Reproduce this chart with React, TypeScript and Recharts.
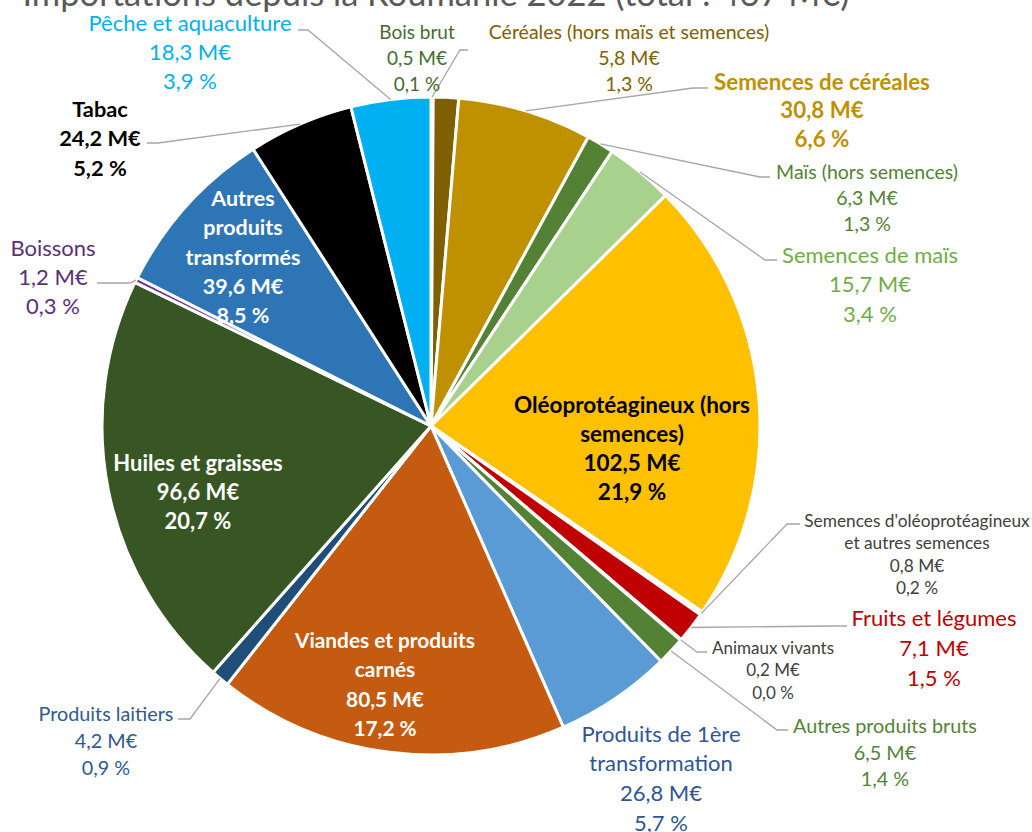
import { PieChart, Pie, Cell } from "recharts"

const TITLE = "Importations depuis la Roumanie 2022 (total : 467 M€)"

const CATEGORIES = [
  "Bois brut",
  "Céréales (hors maïs et semences)",
  "Semences de céréales",
  "Maïs (hors semences)",
  "Semences de maïs",
  "Oléoprotéagineux (hors semences)",
  "Semences d'oléoprotéagineux et autres semences",
  "Fruits et légumes",
  "Animaux vivants",
  "Autres produits bruts",
  "Produits de 1ère transformation",
  "Viandes et produits carnés",
  "Produits laitiers",
  "Huiles et graisses",
  "Boissons",
  "Autres produits transformés",
  "Tabac",
  "Pêche et aquaculture",
]

// M€
const VALUES = [0.5, 5.8, 30.8, 6.3, 15.7, 102.5, 0.8, 7.1, 0.2, 6.5, 26.8, 80.5, 4.2, 96.6, 1.2, 39.6, 24.2, 18.3]

// % as printed on the chart
const PERCENTS = [0.1, 1.3, 6.6, 1.3, 3.4, 21.9, 0.2, 1.5, 0.0, 1.4, 5.7, 17.2, 0.9, 20.7, 0.3, 8.5, 5.2, 3.9]

const SLICE_COLORS = [
  "#375623", "#7F6000", "#BF9000", "#548235", "#A9D18E", "#FFC000",
  "#FFD966", "#C00000", "#A5A5A5", "#548235", "#5B9BD5", "#C55A11",
  "#1F4E79", "#375623", "#7030A0", "#2E75B6", "#000000", "#00B0F0",
]

type LabelLayout = {
  x: number
  y: number
  lh: number
  size: number
  color: string
  bold?: boolean
  wrap?: number
  line?: [number, number][]
}

// label placement (text block centre + elbow / end of the leader line)
const LABELS: LabelLayout[] = [
  { x: 417, y: 31, lh: 26, size: 19, color: "#456B2E", line: [[460, 50], [468, 50]] },
  { x: 629, y: 31, lh: 26, size: 19.5, color: "#7F6000" },
  { x: 822, y: 81, lh: 28.5, size: 22.3, color: "#BF9000", bold: true, line: [[693, 88], [708, 88]] },
  { x: 867, y: 171, lh: 26, size: 19.5, color: "#548235", line: [[760, 177], [770, 177]] },
  { x: 870, y: 254, lh: 29.5, size: 22, color: "#70AD47", line: [[765, 260], [777, 260]] },
  { x: 632, y: 404, lh: 29, size: 22.5, color: "#000000", bold: true, wrap: 22 },
  { x: 917, y: 520, lh: 22.5, size: 17.3, color: "#404040", wrap: 27, line: [[787, 524], [800, 524]] },
  { x: 934, y: 617, lh: 30, size: 22, color: "#C00000", line: [[833, 626], [847, 626]] },
  { x: 773, y: 647, lh: 22.5, size: 17, color: "#404040", line: [[697, 652], [707, 652]] },
  { x: 885, y: 725, lh: 26.5, size: 19.8, color: "#548235", line: [[777, 730], [788, 730]] },
  { x: 661, y: 733, lh: 29.7, size: 22, color: "#2F5597", wrap: 16 },
  { x: 385, y: 639, lh: 29.5, size: 20.8, color: "#FFFFFF", bold: true, wrap: 19 },
  { x: 106, y: 713, lh: 27, size: 19.8, color: "#2E5B8F", line: [[190, 719], [178, 719]] },
  { x: 198, y: 462, lh: 29, size: 22, color: "#FFFFFF", bold: true },
  { x: 53, y: 247, lh: 29, size: 22, color: "#5B3076", line: [[130, 283], [97, 283]] },
  { x: 243, y: 198, lh: 29.3, size: 21.5, color: "#FFFFFF", bold: true, wrap: 11 },
  { x: 100, y: 108, lh: 29.5, size: 21.8, color: "#000000", bold: true, line: [[158, 143], [147, 143]] },
  { x: 190, y: 22, lh: 29, size: 22, color: "#00B0F0", line: [[308, 30], [298, 30]] },
]

const FONT = "Lato, 'Open Sans', sans-serif"
const RADIAN = Math.PI / 180

const fmt = (n: number) => n.toFixed(1).replace(".", ",")

function wrapText(text: string, max?: number): string[] {
  if (!max) return [text]
  const lines: string[] = []
  let cur = ""
  text.split(" ").forEach((w) => {
    const next = cur ? `${cur} ${w}` : w
    if (next.length > max && cur) {
      lines.push(cur)
      cur = w
    } else {
      cur = next
    }
  })
  if (cur) lines.push(cur)
  return lines
}

const data = CATEGORIES.map((name, i) => ({ name, value: VALUES[i] }))

function renderLabel(props: any) {
  const { cx, cy, midAngle, outerRadius, index } = props
  const l = LABELS[index]
  if (!l) return null
  const lines = [
    ...wrapText(CATEGORIES[index], l.wrap),
    `${fmt(VALUES[index])} M€`,
    `${fmt(PERCENTS[index])} %`,
  ]
  let path: string | null = null
  if (l.line) {
    const sx = cx + outerRadius * Math.cos(-midAngle * RADIAN)
    const sy = cy + outerRadius * Math.sin(-midAngle * RADIAN)
    path = `M${sx},${sy}` + l.line.map(([px, py]) => ` L${px},${py}`).join("")
  }
  return (
    <g key={`lbl-${index}`}>
      {path && <path d={path} stroke="#A6A6A6" strokeWidth={1.3} fill="none" />}
      <text
        textAnchor="middle"
        fill={l.color}
        fontSize={l.size}
        fontWeight={l.bold ? 700 : 400}
        fontFamily={FONT}
      >
        {lines.map((t, i) => (
          <tspan key={i} x={l.x} y={l.y + i * l.lh} dominantBaseline="central">
            {t}
          </tspan>
        ))}
      </text>
    </g>
  )
}

export default function App() {
  return (
    <div style={{ position: "absolute", left: 0, top: 0, width: 1032, height: 832, overflow: "hidden", background: "#fff" }}>
      <PieChart width={1032} height={832} margin={{ top: 0, right: 0, bottom: 0, left: 0 }}>
        <Pie
          data={data}
          dataKey="value"
          nameKey="name"
          cx={431}
          cy={426}
          outerRadius={329}
          startAngle={90}
          endAngle={-270}
          stroke="#FFFFFF"
          strokeWidth={3}
          labelLine={false}
          label={renderLabel}
          isAnimationActive={false}
        >
          {data.map((d, i) => (
            <Cell key={d.name} fill={SLICE_COLORS[i]} />
          ))}
        </Pie>
      </PieChart>
      <svg width={1032} height={40} style={{ position: "absolute", left: 0, top: 0, pointerEvents: "none" }}>
        <text x={436} y={6} textAnchor="middle" fill="#595959" fontSize={34.5} fontFamily={FONT}>
          {TITLE}
        </text>
      </svg>
    </div>
  )
}
